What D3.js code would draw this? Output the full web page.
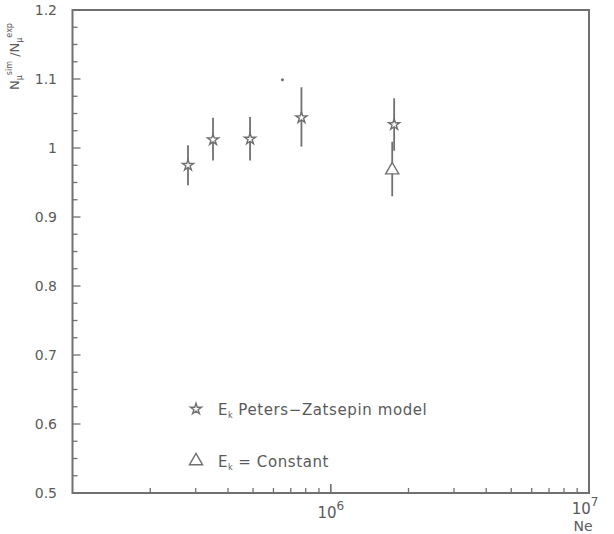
<!DOCTYPE html>
<html><head><meta charset="utf-8">
<script src="https://cdn.jsdelivr.net/npm/d3@7"></script>
<style>body{margin:0;background:#fff}svg{display:block}text{font-family:"DejaVu Sans",Arial,sans-serif;fill:#5a5a5a}</style>
</head><body>
<script>
// Data
const pzNe    = [2.8e5, 3.5e5, 4.87e5, 7.7e5, 1.76e6];
const pzRatio = [0.975, 1.012, 1.013, 1.044, 1.034];
const pzLow   = [0.946, 0.982, 0.982, 1.002, 0.996];
const pzHigh  = [1.004, 1.044, 1.045, 1.088, 1.072];
const ecNe    = [1.73e6];
const ecRatio = [0.968];
const ecLow   = [0.930];
const ecHigh  = [1.009];
const strayNe = [6.5e5];
const strayRatio = [1.099];
const yTicks = [0.5,0.6,0.7,0.8,0.9,1,1.1,1.2];
const yTickLabels = ["0.5","0.6","0.7","0.8","0.9","1","1.1","1.2"];
const xMajor = [1e6, 1e7];
const legendLabels = ["Peters\u2212Zatsepin model", "= Constant"];

const W=614,H=534;
const m={l:72.5,r:25,t:10,b:41};
const svg=d3.select("body").append("svg").attr("width",W).attr("height",H);
const x=d3.scaleLog().domain([1e5,1e7]).range([m.l,W-m.r]);
const y=d3.scaleLinear().domain([0.5,1.2]).range([H-m.b,m.t]);
const col="#707070";

// frame
svg.append("rect").attr("x",x(1e5)).attr("y",y(1.2)).attr("width",x(1e7)-x(1e5)).attr("height",y(0.5)-y(1.2))
  .attr("fill","none").attr("stroke",col).attr("stroke-width",2);

// y ticks
const yMinor=d3.range(0.5,1.2001,0.025);
svg.append("g").selectAll("line").data(yMinor).join("line")
  .attr("x1",x(1e5)).attr("x2",d=>x(1e5)+(Math.abs(d*10-Math.round(d*10))<1e-6?8:5))
  .attr("y1",d=>y(d)).attr("y2",d=>y(d)).attr("stroke",col).attr("stroke-width",1.3);
svg.append("g").selectAll("text").data(yTicks).join("text")
  .attr("x",57).attr("y",d=>y(d)+5).attr("text-anchor","end").attr("font-size",14)
  .text((d,i)=>yTickLabels[i]);

// x ticks (log minors)
const xTicksAll=[];
[1e5,1e6].forEach(dec=>{for(let k=1;k<=10;k++){xTicksAll.push({v:dec*k,major:(k===1||k===10)});}});
svg.append("g").selectAll("line").data(xTicksAll.filter(d=>d.v>1e5&&d.v<1e7)).join("line")
  .attr("x1",d=>x(d.v)).attr("x2",d=>x(d.v))
  .attr("y1",y(0.5)).attr("y2",d=>y(0.5)-(d.major?9:5)).attr("stroke",col).attr("stroke-width",1.3);

const xl=svg.append("g");
xMajor.forEach(v=>{
  const e=Math.round(Math.log10(v));
  const t=xl.append("text").attr("x",x(v)-(v===1e7?4:0)).attr("y",y(0.5)+(v===1e7?21:25)).attr("text-anchor","middle").attr("font-size",15);
  t.append("tspan").text("10");
  t.append("tspan").attr("dy",-8).attr("font-size",12).text(e);
});
svg.append("text").attr("x",x(1e7)-6).attr("y",H-3).attr("text-anchor","middle").attr("font-size",14).text("Ne");

// y title
const yt=svg.append("text").attr("transform","translate(19,90) rotate(-90)").attr("font-size",13);
yt.append("tspan").text("N");
yt.append("tspan").attr("dy",3).attr("font-size",8).text("\u03bc");
yt.append("tspan").attr("dy",-10).attr("font-size",8).text("sim");
yt.append("tspan").attr("dy",7).text(" /N");
yt.append("tspan").attr("dy",3).attr("font-size",8).text("\u03bc");
yt.append("tspan").attr("dy",-10).attr("font-size",8).text("exp");

// error bars
function bars(ne,lo,hi){
  svg.append("g").selectAll("line").data(ne).join("line")
    .attr("x1",d=>x(d)).attr("x2",d=>x(d)).attr("y1",(d,i)=>y(lo[i])).attr("y2",(d,i)=>y(hi[i]))
    .attr("stroke",col).attr("stroke-width",1.8);
}
bars(pzNe,pzLow,pzHigh);
bars(ecNe,ecLow,ecHigh);

const star=d3.symbol().type(d3.symbolStar).size(38);
const tri=d3.symbol().type(d3.symbolTriangle).size(75);
svg.append("g").selectAll("path").data(pzNe).join("path")
  .attr("transform",(d,i)=>`translate(${x(d)},${y(pzRatio[i])})`).attr("d",star)
  .attr("fill","#fff").attr("stroke",col).attr("stroke-width",1.4);
svg.append("g").selectAll("path").data(ecNe).join("path")
  .attr("transform",(d,i)=>`translate(${x(d)},${y(ecRatio[i])})`).attr("d",tri)
  .attr("fill","#fff").attr("stroke",col).attr("stroke-width",1.4);
svg.append("g").selectAll("circle").data(strayNe).join("circle")
  .attr("cx",d=>x(d)).attr("cy",(d,i)=>y(strayRatio[i])).attr("r",1.5).attr("fill",col);

// legend
const lg=svg.append("g");
lg.append("path").attr("transform","translate(196,409)").attr("d",star).attr("fill","#fff").attr("stroke",col).attr("stroke-width",1.4);
lg.append("path").attr("transform","translate(196,461)").attr("d",tri).attr("fill","#fff").attr("stroke",col).attr("stroke-width",1.4);
[[415,0],[467,1]].forEach(([yy,i])=>{
  const t=lg.append("text").attr("x",218).attr("y",yy).attr("font-size",15).attr("letter-spacing",0.6);
  t.append("tspan").text("E");
  t.append("tspan").attr("dy",3).attr("font-size",8).text("k");
  t.append("tspan").attr("dy",-3).attr("dx",5).text(legendLabels[i]);
});
</script>
</body></html>
